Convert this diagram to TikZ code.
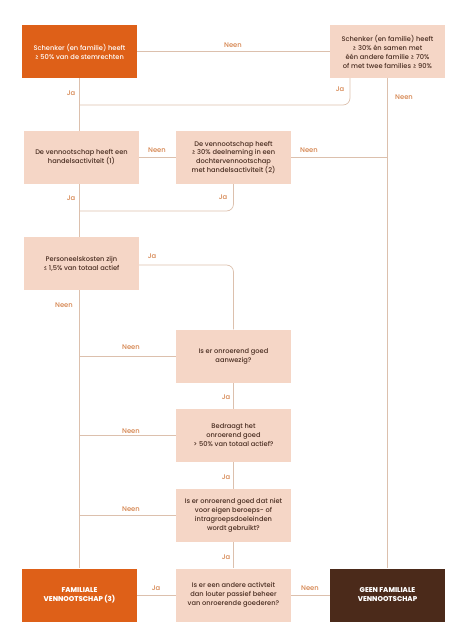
\documentclass[tikz,border=0pt]{standalone}
\usepackage{fontspec}
\setmainfont{Poppins Medium}
\usetikzlibrary{backgrounds}
\definecolor{orng}{HTML}{DE6018}
\definecolor{dbrown}{HTML}{4B2A1A}
\definecolor{peach}{HTML}{F5D6C6}
\definecolor{lnc}{HTML}{DCC0AD}
\definecolor{lblc}{HTML}{D4824B}
\definecolor{txtc}{HTML}{4A2E22}
\tikzset{
  box/.style={fill=peach, text=txtc, minimum width=115bp, minimum height=53bp, inner sep=1bp, align=center, font=\fontsize{6.7}{9}\selectfont},
  hibox/.style={box, fill=orng, text=white},
  endbox/.style={box, fill=dbrown, text=white},
  lbl/.style={text=lblc, font=\fontsize{6.8}{8}\selectfont, inner sep=0pt},
  conn/.style={draw=lnc, line width=0.7bp}
}
\begin{document}
\begin{tikzpicture}[x=1bp,y=-1bp]
\useasboundingbox (0,0) rectangle (474,641);
\node[hibox] (A) at (79.5,51.5) {Schenker (en familie) heeft\\≥ 50\% van de stemrechten};
\node[box] (B) at (387.5,51.5) {Schenker (en familie) heeft\\≥ 30\% én samen met\\één andere familie ≥ 70\%\\of met twee families ≥ 90\%};
\node[box] (C) at (81.5,157.5) {De vennootschap heeft een\\handelsactiviteit (1)};
\node[box] (D) at (233.5,157.5) {De vennootschap heeft\\≥ 30\% deelneming in een\\dochtervennootschap\\met handelsactiviteit (2)};
\node[box] (E) at (81.5,263.5) {Personeelskosten zijn\\≤ 1,5\% van totaal actief};
\node[box] (F) at (233.5,356) {Is er onroerend goed\\aanwezig?};
\node[box] (G) at (233.5,435.5) {Bedraagt het\\onroerend goed\\> 50\% van totaal actief?};
\node[box] (H) at (233.5,515.5) {Is er onroerend goed dat niet\\voor eigen beroeps- of\\intragroepsdoeleinden\\wordt gebruikt?};
\node[box] (I) at (233.5,595) {Is er een andere activteit\\dan louter passief beheer\\van onroerende goederen?};
\node[hibox, font=\fontsize{7}{9}\selectfont\bfseries] (FAM) at (79.5,595) {FAMILIALE\\VENNOOTSCHAP (3)};
\node[endbox, font=\fontsize{7}{9}\selectfont\bfseries] (GEEN) at (387.5,595) {GEEN FAMILIALE\\VENNOOTSCHAP};
\coordinate (bj) at (350,78);
\coordinate (bjl) at (79.5,105);
\coordinate (djl) at (79.5,211);
\coordinate (ej) at (233.5,265);
\begin{scope}[on background layer]
\draw[conn] (A) -- (B);
\draw[conn] (A) -- (FAM);
\draw[conn] (B) -- (GEEN);
\draw[conn, rounded corners=7bp] (bj) |- (bjl);
\draw[conn] (C) -- (D);
\draw[conn] (D.east) -- (D.east -| B);
\draw[conn, rounded corners=7bp] (D.south) |- (djl);
\draw[conn, rounded corners=7bp] (E.east |- ej) -| (F.north);
\draw[conn] (F) -- (I);
\draw[conn] (F.west) -- (F.west -| A);
\draw[conn] (G.west) -- (G.west -| A);
\draw[conn] (H.west) -- (H.west -| A);
\draw[conn] (FAM) -- (GEEN);
\end{scope}
\node[lbl] (l1) at (233,45) {Neen};
\node[lbl] (l2) at (71,93) {Ja};
\node[lbl] (l3) at (340,89) {Ja};
\node[lbl] (l4) at (404,97) {Neen};
\node[lbl] (l5) at (157,150) {Neen};
\node[lbl] (l6) at (309,150) {Neen};
\node[lbl] (l7) at (71,198) {Ja};
\node[lbl] (l8) at (223,197) {Ja};
\node[lbl] (l9) at (152,256) {Ja};
\node[lbl] (l10) at (64,305) {Neen};
\node[lbl] (l11) at (131,347) {Neen};
\node[lbl] (l12) at (226,397) {Ja};
\node[lbl] (l13) at (131,431) {Neen};
\node[lbl] (l14) at (226,477) {Ja};
\node[lbl] (l15) at (131,509) {Neen};
\node[lbl] (l16) at (226,557) {Ja};
\node[lbl] (l17) at (156,588) {Ja};
\node[lbl] (l18) at (310,588) {Neen};
\end{tikzpicture}
\end{document}
